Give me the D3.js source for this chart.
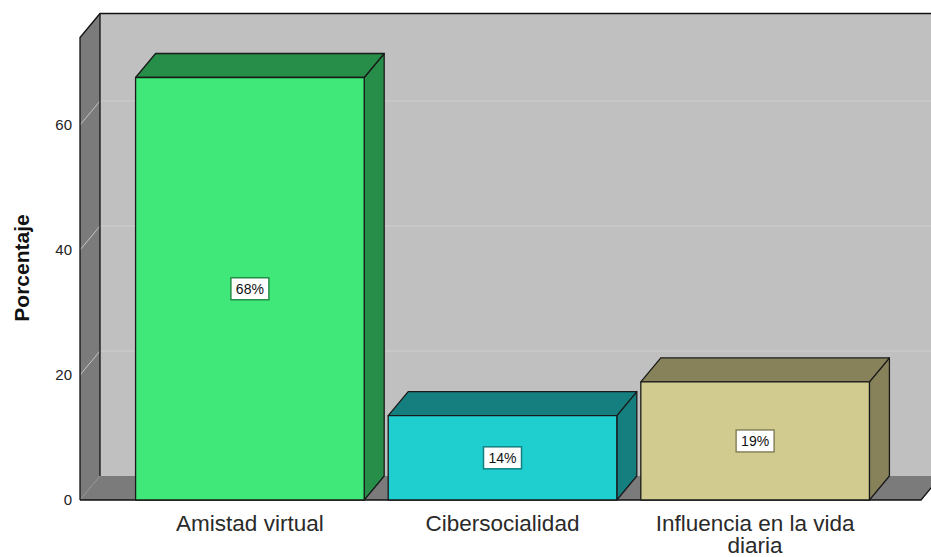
<!DOCTYPE html>
<html>
<head>
<meta charset="utf-8">
<script src="https://cdn.jsdelivr.net/npm/d3@7"></script>
<style>
  body { margin: 0; background: #fff; }
  svg { display: block; font-family: "Liberation Sans", Arial, sans-serif; }
</style>
</head>
<body>
<div id="chart"></div>
<script>
var categories = ["Amistad virtual", "Cibersocialidad", "Influencia en la vida diaria"];
var values = [67.6, 13.5, 18.9];
var valueLabels = ["68%", "14%", "19%"];
var yTicks = [0, 20, 40, 60];
var frontColors = ["#3fe878", "#1fcfcf", "#d2cb8f"];
var sideColors = ["#268e48", "#157f80", "#88825b"];

var width = 931,
    height = 557,
    depthX = 20,
    depthY = 24,
    plotLeft = 80,
    plotRight = 921,
    floorY = 500;

var svg = d3.select('#chart').append('svg')
    .attr('width', width)
    .attr('height', height);

var x = d3.scaleBand()
    .domain(categories)
    .range([plotLeft, 925])
    .paddingInner(0.095)
    .paddingOuter(0.22);

var y = d3.scaleLinear()
    .domain([0, 74])
    .range([floorY, 37.5]);

var yTop = y.range()[1];

// back wall
svg.append('rect')
    .attr('x', plotLeft + depthX)
    .attr('y', yTop - depthY)
    .attr('width', width)
    .attr('height', floorY - yTop)
    .attr('fill', '#c0c0c0');

// left wall
svg.append('polygon')
    .attr('points', [[plotLeft, yTop], [plotLeft + depthX, yTop - depthY],
        [plotLeft + depthX, floorY - depthY], [plotLeft, floorY]].join(' '))
    .attr('fill', '#7b7b7b');

// floor
svg.append('polygon')
    .attr('points', [[plotLeft, floorY], [plotLeft + depthX, floorY - depthY],
        [plotRight + depthX, floorY - depthY], [plotRight, floorY]].join(' '))
    .attr('fill', '#7b7b7b');

// gridlines on wall + diagonal tick lines on left wall
yTicks.filter(function (d) { return d > 0; }).forEach(function (d) {
    svg.append('line')
        .attr('x1', plotLeft + depthX).attr('x2', width)
        .attr('y1', y(d) - depthY).attr('y2', y(d) - depthY)
        .attr('stroke', '#cfcfcf').attr('stroke-width', 1);
    svg.append('line')
        .attr('x1', plotLeft).attr('x2', plotLeft + depthX)
        .attr('y1', y(d)).attr('y2', y(d) - depthY)
        .attr('stroke', '#c4c4c4').attr('stroke-width', 1);
});

// wall outlines
var outline = svg.append('g')
    .attr('fill', 'none')
    .attr('stroke', '#111')
    .attr('stroke-width', 1.3);
outline.append('path')
    .attr('d', 'M' + plotLeft + ',' + floorY + 'V' + yTop +
        'L' + (plotLeft + depthX) + ',' + (yTop - depthY) + 'H' + width);
outline.append('path')
    .attr('d', 'M' + (plotLeft + depthX) + ',' + (yTop - depthY) + 'V' + (floorY - depthY));
outline.append('path')
    .attr('d', 'M' + plotLeft + ',' + floorY + 'H' + plotRight +
        'L' + (plotRight + depthX) + ',' + (floorY - depthY));

// bars
var bars = svg.selectAll('g.bar')
    .data(categories)
    .enter().append('g')
    .attr('class', 'bar')
    .attr('stroke', '#1a1a1a')
    .attr('stroke-width', 1.3)
    .attr('stroke-linejoin', 'round');

bars.append('polygon')
    .attr('points', function (d, i) {
        var x1 = x(d) + x.bandwidth(), yt = y(values[i]);
        return [[x1, yt], [x1 + depthX, yt - depthY], [x1 + depthX, floorY - depthY], [x1, floorY]].join(' ');
    })
    .attr('fill', function (d, i) { return sideColors[i]; });

bars.append('polygon')
    .attr('points', function (d, i) {
        var x0 = x(d), x1 = x(d) + x.bandwidth(), yt = y(values[i]);
        return [[x0, yt], [x0 + depthX, yt - depthY], [x1 + depthX, yt - depthY], [x1, yt]].join(' ');
    })
    .attr('fill', function (d, i) { return sideColors[i]; });

bars.append('rect')
    .attr('x', function (d) { return x(d); })
    .attr('y', function (d, i) { return y(values[i]); })
    .attr('width', x.bandwidth())
    .attr('height', function (d, i) { return floorY - y(values[i]); })
    .attr('fill', function (d, i) { return frontColors[i]; });

// value labels
var lab = svg.selectAll('g.vlabel')
    .data(categories)
    .enter().append('g')
    .attr('class', 'vlabel')
    .attr('transform', function (d, i) {
        return 'translate(' + (x(d) + x.bandwidth() / 2) + ',' + ((y(values[i]) + floorY) / 2) + ')';
    });

lab.append('rect')
    .attr('x', -19).attr('y', -11)
    .attr('width', 38).attr('height', 22)
    .attr('fill', '#fff')
    .attr('stroke', function (d, i) { return sideColors[i]; })
    .attr('stroke-width', 1.5);

lab.append('text')
    .attr('text-anchor', 'middle')
    .attr('dy', '0.36em')
    .attr('font-size', 14)
    .attr('fill', '#111')
    .text(function (d, i) { return valueLabels[i]; });

// y axis labels
var yAxis = svg.append('g')
    .attr('transform', 'translate(' + (plotLeft - 8) + ',0)')
    .call(d3.axisLeft(y).tickValues(yTicks).tickSize(0).tickPadding(0));
yAxis.select('.domain').remove();
yAxis.selectAll('text')
    .attr('font-family', '"Liberation Sans", Arial, sans-serif')
    .attr('font-size', 15)
    .attr('fill', '#222');

svg.append('text')
    .attr('transform', 'translate(29,' + 268 + ') rotate(-90)')
    .attr('text-anchor', 'middle')
    .attr('font-size', 21)
    .attr('font-weight', 'bold')
    .attr('fill', '#111')
    .text('Porcentaje');

// category labels (wrap long ones)
var catText = svg.selectAll('text.cat')
    .data(categories)
    .enter().append('text')
    .attr('class', 'cat')
    .attr('text-anchor', 'middle')
    .attr('font-size', 22.5)
    .attr('fill', '#2a2a2a')
    .attr('x', function (d) { return x(d) + x.bandwidth() / 2; })
    .attr('y', 531);

catText.each(function (d) {
    var words = d.split(' ');
    var lines = d.length > 20 ? [words.slice(0, 4).join(' '), words.slice(4).join(' ')] : [d];
    var t = d3.select(this);
    lines.forEach(function (l, k) {
        t.append('tspan')
            .attr('x', t.attr('x'))
            .attr('dy', k === 0 ? 0 : 22)
            .text(l);
    });
});
</script>
</body>
</html>
